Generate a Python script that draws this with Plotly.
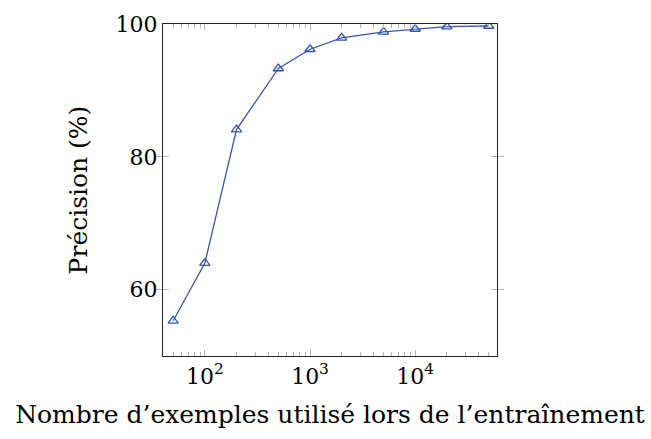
import plotly.graph_objects as go

examples = [50, 100, 200, 500, 1000, 2000, 5000, 10000, 20000, 50000]
precision = [55.3, 64.0, 84.1, 93.3, 96.2, 97.9, 98.8, 99.25, 99.6, 99.7]
x_major_vals = [100, 1000, 10000]
x_major_text = ["10<sup>2</sup>", "10<sup>3</sup>", "10<sup>4</sup>"]
x_minor_vals = [m * 10 ** e for e in range(1, 5) for m in range(2, 10) if 40 <= m * 10 ** e <= 60000]
y_tickvals = [60, 80, 100]

FONT = "DejaVu Serif"
BLUE = "#3a55a8"
TICKC = "#b4b4b4"
XR = [1.602, 4.778]

fig = go.Figure()
fig.add_trace(go.Scatter(
    x=examples, y=precision, mode="lines+markers",
    line=dict(color=BLUE, width=1.3),
    marker=dict(symbol="triangle-up-open", size=9, color=BLUE, line=dict(width=1.3, color=BLUE)),
    showlegend=False,
))

fig.update_layout(
    width=651, height=439,
    margin=dict(l=163, r=154, t=22, b=83),
    paper_bgcolor="white", plot_bgcolor="white",
    font=dict(family=FONT, color="black", size=20),
    xaxis=dict(
        type="log", range=XR,
        tickmode="array", tickvals=x_minor_vals, showticklabels=False,
        ticks="inside", ticklen=3.5, tickcolor=TICKC, tickwidth=1,
        showline=True, linecolor="#222222", linewidth=1.2, mirror="allticks",
        showgrid=False, zeroline=False,
    ),
    xaxis2=dict(
        type="log", range=XR, overlaying="x", side="bottom", anchor="y",
        tickmode="array", tickvals=x_major_vals, ticktext=x_major_text,
        ticks="inside", ticklen=6, tickcolor=TICKC, tickwidth=1,
        showline=True, linecolor="#222222", linewidth=1.2, mirror="allticks",
        showgrid=False, zeroline=False,
        tickfont=dict(family=FONT, size=22),
        title=dict(text="Nombre d’exemples utilisé lors de l’entraînement",
                   font=dict(family=FONT, size=25), standoff=17),
    ),
    yaxis=dict(
        range=[50, 100], tickvals=y_tickvals,
        ticks="inside", ticklen=6, tickcolor=TICKC, tickwidth=1,
        showline=True, linecolor="#222222", linewidth=1.2, mirror="allticks",
        showgrid=False, zeroline=False,
        tickfont=dict(family=FONT, size=22),
        title=dict(text="Précision (%)", font=dict(family=FONT, size=25), standoff=20),
    ),
)
fig.add_trace(go.Scatter(x=[], y=[], xaxis="x2", yaxis="y", showlegend=False, hoverinfo="skip"))

fig.write_html("out.html")
